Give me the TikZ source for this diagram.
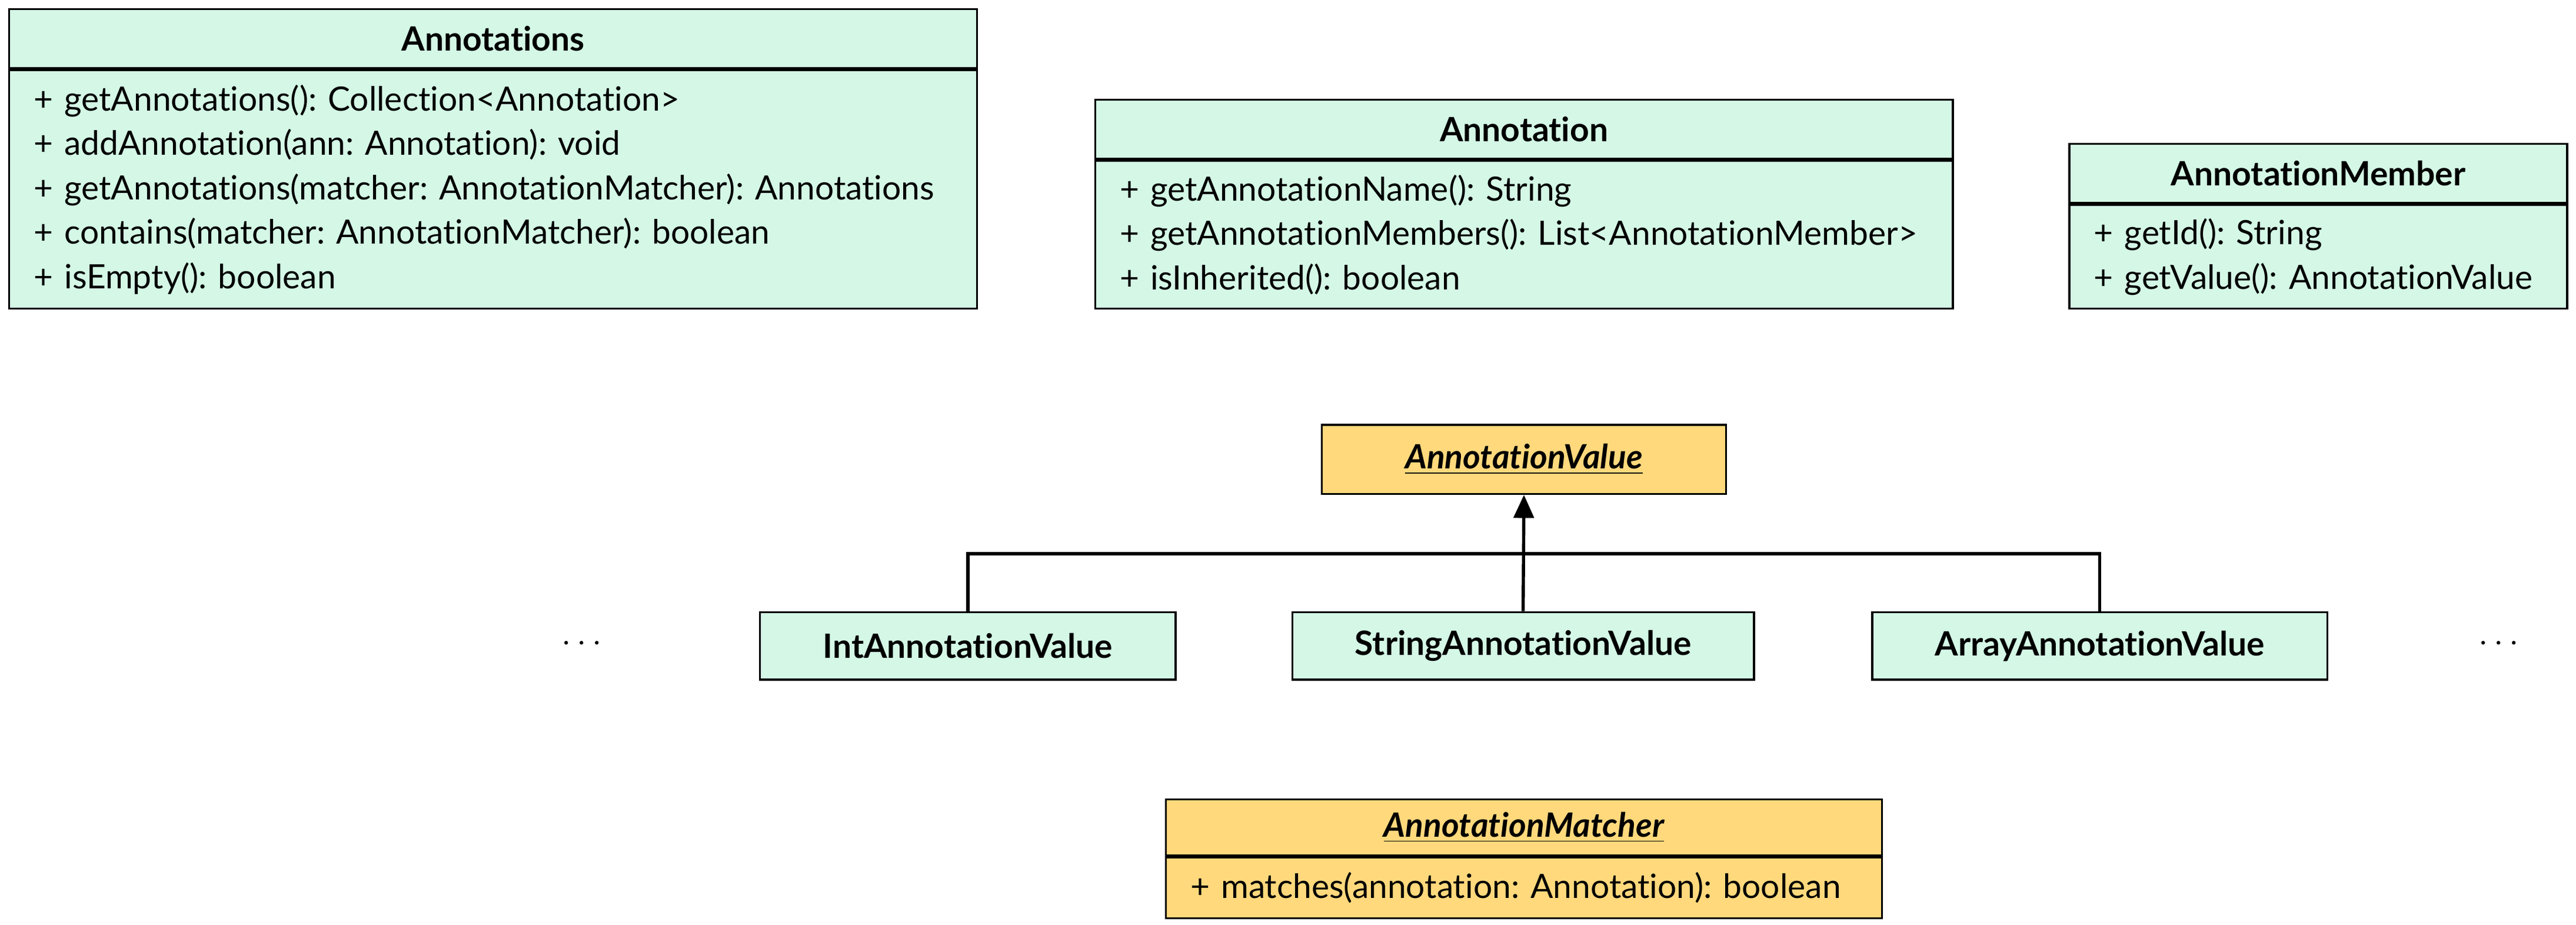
\documentclass[tikz,border=0pt]{standalone}
\usepackage{fontspec}
\setmainfont{Lato}[Ligatures={NoCommon}]
\usetikzlibrary{positioning}
\usetikzlibrary{arrows.meta}
\definecolor{mint}{HTML}{D4F7E6}
\definecolor{gold}{HTML}{FFD97C}
\frenchspacing
\begin{document}
\begin{tikzpicture}[
  font=\fontsize{11.6}{15.4}\selectfont,
  title/.style={draw, fill=mint, line width=0.7pt, anchor=north west, minimum height=0.72cm, font=\fontsize{11.6}{15.4}\selectfont\bfseries},
  body/.style={draw, fill=mint, line width=0.7pt, anchor=north, align=left, inner xsep=0.3cm},
  leaf/.style={draw, fill=mint, line width=0.7pt, anchor=north west, minimum height=0.82cm, font=\fontsize{11.6}{15.4}\selectfont\bfseries},
  abstract/.style={draw, fill=gold, line width=0.7pt, anchor=north west, font=\fontsize{11.6}{15.4}\selectfont\bfseries\itshape},
  arrow/.style={-{Triangle[width=7pt,length=8pt]}, line width=1.1pt}
]
\useasboundingbox (0,0) rectangle (31.36,-11.26);

% Annotations
\node[title, minimum width=11.78cm] (anns) at (0.1,-0.1) {Annotations};
\node[body, minimum width=11.78cm, minimum height=2.9cm, text width=11.18cm] (anns-b) at (anns.south) {%
+ getAnnotations(): Collection<Annotation>\\
+ addAnnotation(ann: Annotation): void\\
+ getAnnotations(matcher: AnnotationMatcher): Annotations\\
+ contains(matcher: AnnotationMatcher): boolean\\
+ isEmpty(): boolean};

% Annotation
\node[title, minimum width=10.44cm] (ann) at (13.32,-1.2) {Annotation};
\node[body, minimum width=10.44cm, minimum height=1.8cm, text width=9.84cm] (ann-b) at (ann.south) {%
+ getAnnotationName(): String\\
+ getAnnotationMembers(): List<AnnotationMember>\\
+ isInherited(): boolean};

% AnnotationMember
\node[title, minimum width=6.06cm] (mem) at (25.18,-1.74) {AnnotationMember};
\node[body, minimum width=6.06cm, minimum height=1.26cm, text width=5.46cm] (mem-b) at (mem.south) {%
+ getId(): String\\
+ getValue(): AnnotationValue};

% value hierarchy
\node[abstract, minimum width=4.92cm, minimum height=0.84cm] (val) at (16.08,-5.16) {\underline{AnnotationValue}};
\node[leaf, minimum width=5.06cm] (int) at (9.24,-7.44) {IntAnnotationValue};
\node[leaf, minimum width=5.62cm] (str) at (15.72,-7.44) {StringAnnotationValue};
\node[leaf, minimum width=5.54cm] (arr) at (22.78,-7.44) {ArrayAnnotationValue};
\node (dots-l) at (7.08,-7.84) {$\cdots$};
\node (dots-r) at (30.42,-7.84) {$\cdots$};

\coordinate (bus) at (val.south |- 0,-6.74);
\draw[line width=1.1pt] (int.north) |- (bus) -| (arr.north);
\draw[arrow] (str.north) -- (val.south);

% AnnotationMatcher
\node[abstract, minimum width=8.72cm, minimum height=0.68cm] (match) at (14.18,-9.72) {\underline{AnnotationMatcher}};
\node[body, fill=gold, minimum width=8.72cm, minimum height=0.74cm, text width=8.12cm] (match-b) at (match.south) {%
+ matches(annotation: Annotation): boolean};

\end{tikzpicture}
\end{document}
